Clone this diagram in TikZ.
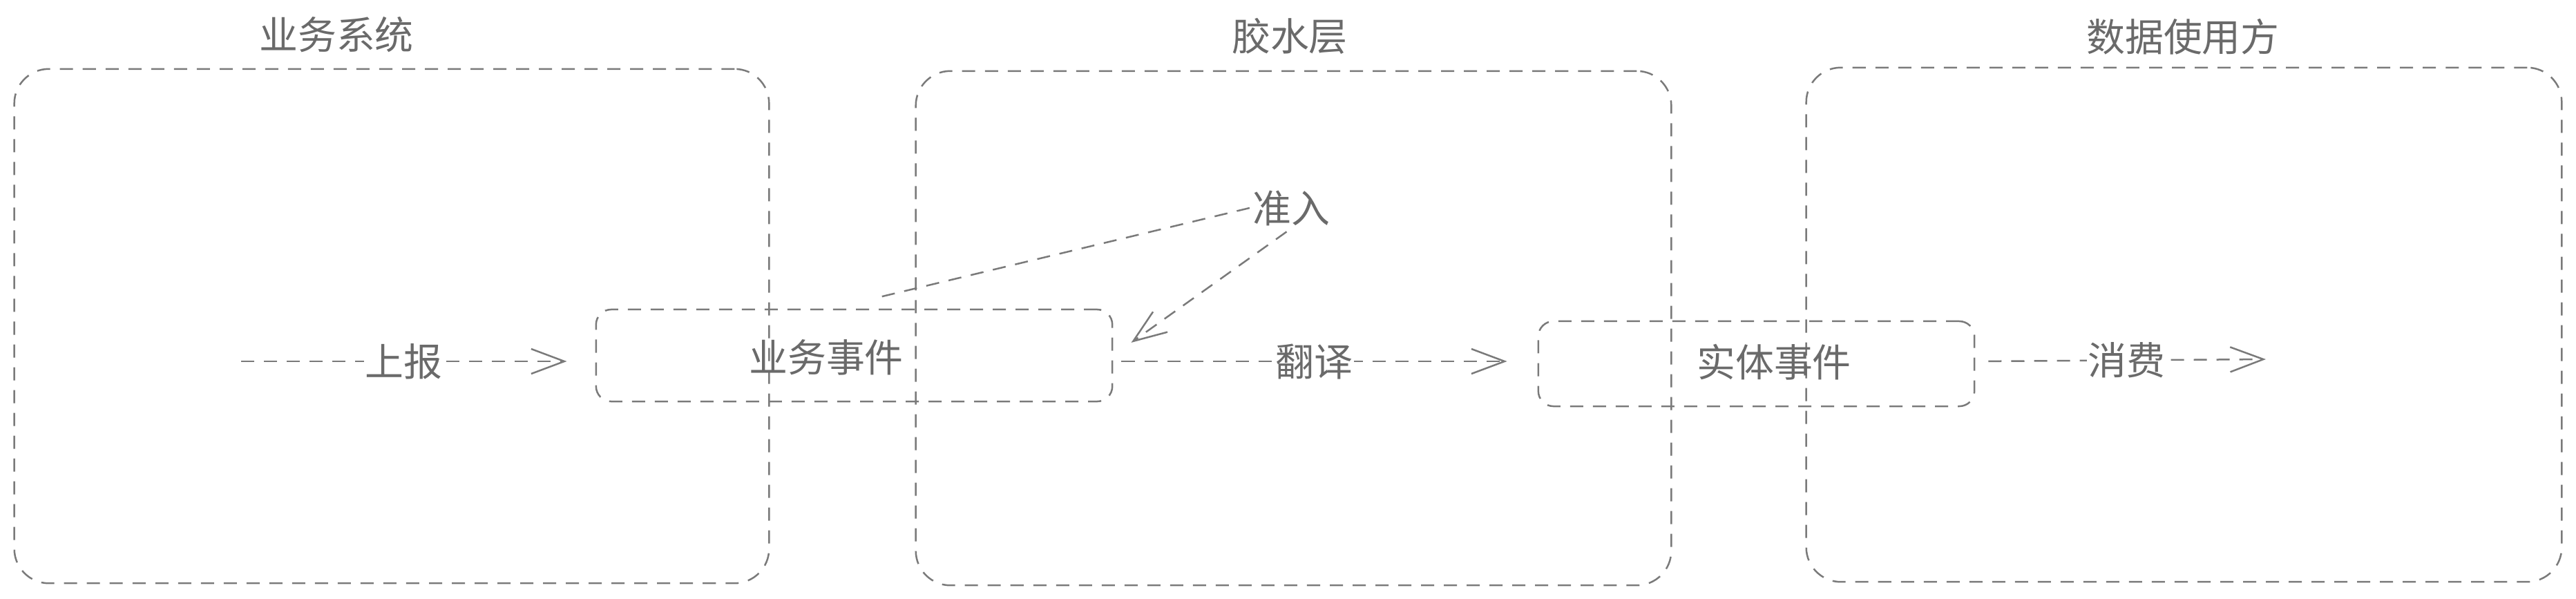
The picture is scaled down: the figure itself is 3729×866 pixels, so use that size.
\documentclass[tikz,border=0pt]{standalone}
\usepackage{fontspec}
\newfontfamily\cjk{Noto Sans CJK SC}
\usetikzlibrary{arrows.meta}
\definecolor{lc}{HTML}{7A7A7A}
\definecolor{tc}{HTML}{6A6A6A}
\tikzset{
  dl/.style={draw=lc, line width=0.025cm, dash pattern=on 0.19cm off 0.14cm},
  bigbox/.style={dl, rounded corners=0.5cm, inner sep=0pt},
  evbox/.style={dl, rounded corners=0.22cm, inner sep=0pt},
  txt/.style={text=tc, font=\cjk\fontsize{15.9}{18}\selectfont, inner sep=1pt},
  lbl/.style={txt, fill=white, inner sep=0.5pt},
  arr/.style={dl, -{Straight Barb[length=0.48cm, width=0.36cm, line width=0.025cm]}},
}
\begin{document}
\begin{tikzpicture}[x=0.01cm, y=-0.01cm]
\useasboundingbox (0,0) rectangle (3729,866);
% big boxes
\node[bigbox, minimum width=10.92cm, minimum height=7.44cm] (b1) at (567,472) {};
\node[bigbox, minimum width=10.93cm, minimum height=7.44cm] (b2) at (1872.5,475) {};
\node[bigbox, minimum width=10.93cm, minimum height=7.44cm] (b3) at (3161.5,470) {};
\node[txt] (t1) at (487,50) {业务系统};
\node[txt] (t2) at (1867,52) {胶水层};
\node[txt] (t3) at (3160,53) {数据使用方};
% event boxes
\node[evbox, minimum width=7.47cm, minimum height=1.33cm] (ev1) at (1236.5,514.5) {};
\node[txt] (ev1t) at (1196,517) {业务事件};
\node[evbox, minimum width=6.31cm, minimum height=1.23cm] (ev2) at (2542.5,526.5) {};
\node[txt] (ev2t) at (2568,524) {实体事件};
% admission
\node[txt] (zr) at (1869,301) {准入};
\coordinate (zl) at (1269,431);
\coordinate (ya) at (0,523);
\coordinate (s1) at (349,523);
\coordinate (c3) at (3280,520);
% connectors
\draw[arr, shorten >=0.41cm] (s1) -- (s1 -| ev1.west) node[lbl, midway, xshift=-0.21cm] {上报};
\draw[arr, shorten <=0.12cm, shorten >=0.44cm] (ev1.east |- ya) -- (ev2.west |- ya) node[lbl, midway, xshift=-0.16cm] {翻译};
\draw[arr, shorten <=0.19cm] (ev2.east |- ya) -- (c3) node[lbl, midway, xshift=0.09cm] {消费};
\draw[dl] (zr.west) -- (zl);
\draw[arr, shorten <=0.08cm, shorten >=0.32cm] (zr.south) -- (ev1.east);
\end{tikzpicture}
\end{document}
